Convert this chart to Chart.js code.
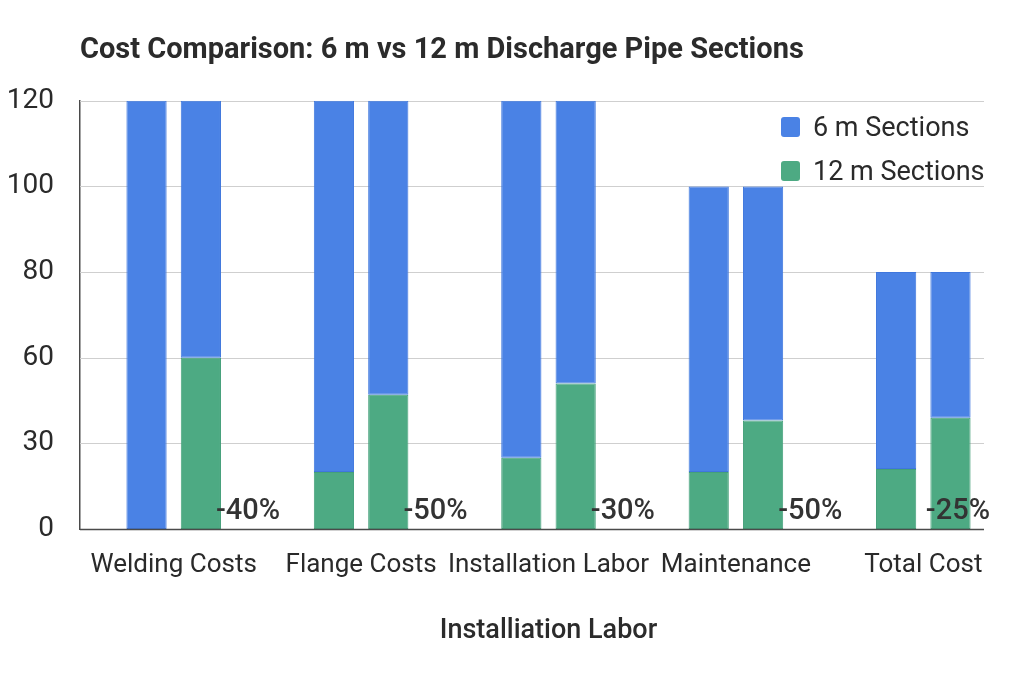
<!DOCTYPE html>
<html>
<head>
<meta charset="utf-8">
<script src="https://cdn.jsdelivr.net/npm/chart.js@4.4.1/dist/chart.umd.min.js"></script>
<style>
  html, body { margin: 0; padding: 0; background: #fff; }
  canvas { display: block; }
</style>
</head>
<body>
<canvas id="chart" width="1024" height="683"></canvas>
<script>
/* ─── data ─── */
const categories = ['Welding Costs', 'Flange Costs', 'Installation Labor', 'Maintenance', 'Total Cost'];
const yTicks = [0, 30, 60, 80, 100, 120];          // printed tick labels, evenly spaced on the axis
const leftTotals = [120, 120, 120, 100, 80];
const leftGreen = [0, 20, 25, 20, 21];
const rightTotals = [120, 120, 120, 100, 80];
const rightGreen = [60, 47, 51, 38, 39];
const savings = ['-40%', '-50%', '-30%', '-50%', '-25%'];
const seriesNames = ['6 m Sections', '12 m Sections'];

const BLUE = '#4A82E5';
const GREEN = '#4DAA83';
const FONT = "Roboto, 'Noto Sans', sans-serif";

// the printed ticks are not linear, so map a value onto tick-index units
function toAxis(v) {
  for (let i = 0; i < yTicks.length - 1; i++) {
    if (v <= yTicks[i + 1]) return i + (v - yTicks[i]) / (yTicks[i + 1] - yTicks[i]);
  }
  return yTicks.length - 1;
}

const leftGreenAx = leftGreen.map(toAxis);
const leftBlueAx = leftTotals.map((t, i) => toAxis(t) - leftGreenAx[i]);
const rightGreenAx = rightGreen.map(toAxis);
const rightBlueAx = rightTotals.map((t, i) => toAxis(t) - rightGreenAx[i]);

/* ─── plugins ─── */
const gridPlugin = {
  id: 'grid',
  beforeDatasetsDraw(chart, args, opts) {
    const { ctx, chartArea, scales: { y } } = chart;
    ctx.save();
    ctx.lineWidth = 1;
    ctx.strokeStyle = '#cfcfcf';
    y.ticks.forEach((t) => {
      const py = Math.round(y.getPixelForValue(t.value)) + 0.5;
      if (t.value === 0) return;
      ctx.beginPath();
      ctx.moveTo(chartArea.left, py);
      ctx.lineTo(opts.right, py);
      ctx.stroke();
    });
    ctx.restore();
  },
  afterDatasetsDraw(chart, args, opts) {
    const { ctx, chartArea, scales: { y } } = chart;
    const py = Math.round(y.getPixelForValue(0)) + 0.5;
    ctx.save();
    ctx.lineWidth = 1.5;
    ctx.strokeStyle = '#4a4a4a';
    ctx.beginPath();
    ctx.moveTo(chartArea.left, py);
    ctx.lineTo(opts.right, py);
    ctx.stroke();
    ctx.restore();
  },
};

const labelPlugin = {
  id: 'savingLabels',
  afterDatasetsDraw(chart, args, opts) {
    const { ctx, scales: { y } } = chart;
    const meta = chart.getDatasetMeta(2);
    ctx.save();
    ctx.font = `500 29px ${FONT}`;
    ctx.fillStyle = '#333';
    ctx.textAlign = 'left';
    ctx.textBaseline = 'alphabetic';
    meta.data.forEach((bar, i) => {
      const w = ctx.measureText(savings[i]).width;
      const x = Math.min(bar.x + bar.width / 2 - 5, opts.maxRight - w);
      ctx.fillText(savings[i], x, y.getPixelForValue(0) - 10);
    });
    ctx.restore();
  },
};

const legendPlugin = {
  id: 'innerLegend',
  afterDraw(chart, args, opts) {
    const { ctx } = chart;
    ctx.save();
    ctx.font = `27px ${FONT}`;
    ctx.textBaseline = 'middle';
    ctx.textAlign = 'left';
    [BLUE, GREEN].forEach((c, i) => {
      const cy = opts.top + i * opts.gap;
      ctx.fillStyle = c;
      ctx.beginPath();
      ctx.roundRect(opts.left, cy - 10, 19, 20, 3);
      ctx.fill();
      ctx.fillStyle = '#2a2a2a';
      ctx.fillText(seriesNames[i], opts.left + 32, cy + 2);
    });
    ctx.restore();
  },
};

/* ─── chart ─── */
const barOpts = { categoryPercentage: 0.58, barPercentage: 0.74, borderWidth: 1, borderSkipped: false };

new Chart(document.getElementById('chart'), {
  type: 'bar',
  data: {
    labels: categories,
    datasets: [
      { label: seriesNames[1], data: leftGreenAx, stack: 'a', backgroundColor: GREEN, borderColor: '#45a07a', ...barOpts },
      { label: seriesNames[0], data: leftBlueAx, stack: 'a', backgroundColor: BLUE, borderColor: '#3f77dd', ...barOpts },
      { label: seriesNames[1], data: rightGreenAx, stack: 'b', backgroundColor: GREEN, borderColor: '#45a07a', ...barOpts },
      { label: seriesNames[0], data: rightBlueAx, stack: 'b', backgroundColor: BLUE, borderColor: '#3f77dd', ...barOpts },
    ],
  },
  options: {
    responsive: false,
    animation: false,
    layout: { padding: { left: 0, right: 7, top: 0, bottom: 0 } },
    plugins: {
      legend: { display: false },
      tooltip: { enabled: false },
      title: {
        display: true,
        fullSize: false,
        align: 'start',
        text: 'Cost Comparison: 6 m vs 12 m Discharge Pipe Sections',
        color: '#2b2b2b',
        font: { family: FONT, size: 29, weight: 'bold' },
        padding: { top: 33, bottom: 33 },
      },
      grid: { right: 984 },
      savingLabels: { maxRight: 990 },
      innerLegend: { left: 781, top: 127, gap: 44 },
    },
    scales: {
      x: {
        stacked: true,
        grid: { display: false },
        border: { display: false },
        ticks: { color: '#2a2a2a', font: { family: FONT, size: 26 }, padding: 13, maxRotation: 0, autoSkip: false },
        title: {
          display: true,
          text: 'Installiation Labor',
          color: '#2b2b2b',
          font: { family: FONT, size: 27, weight: '500' },
          padding: { top: 0, bottom: 36 },
        },
        afterFit: (s) => { s.height = 154; },
      },
      y: {
        stacked: true,
        min: 0,
        max: yTicks.length - 1,
        grid: { display: false },
        border: { display: true, color: '#4a4a4a', width: 1.5 },
        ticks: {
          stepSize: 1,
          color: '#2a2a2a',
          font: { family: FONT, size: 28 },
          padding: 18,
          callback: (v) => yTicks[v],
        },
        afterFit: (s) => { s.width = 80; },
      },
    },
  },
  plugins: [gridPlugin, labelPlugin, legendPlugin],
});
</script>
</body>
</html>
